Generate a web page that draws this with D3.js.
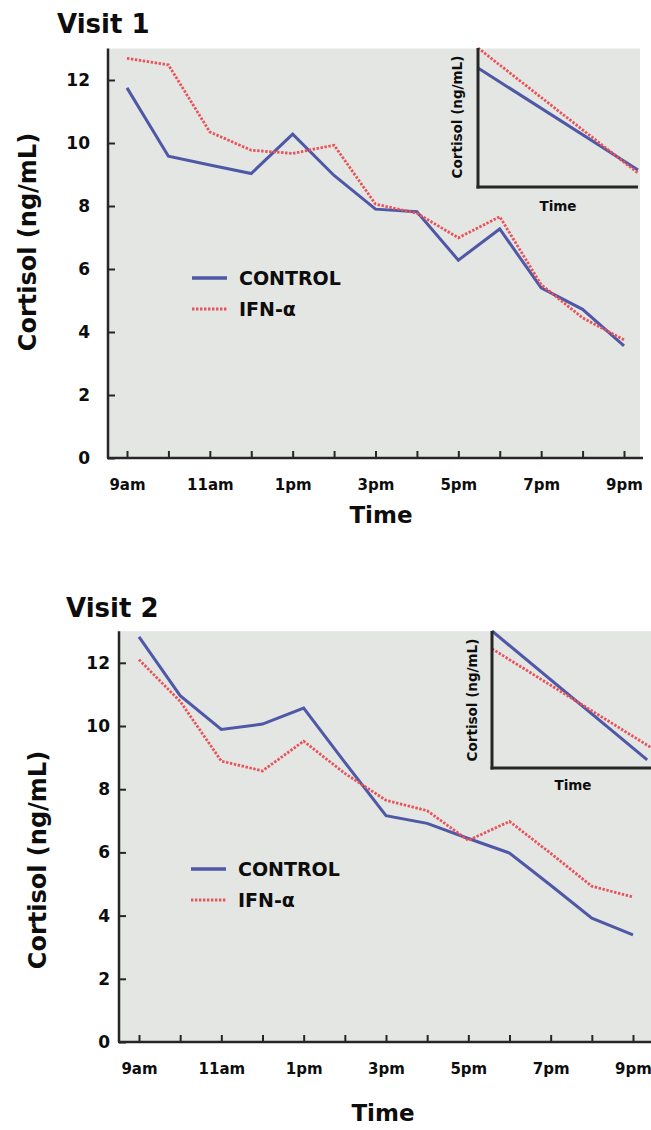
<!DOCTYPE html>
<html>
<head>
<meta charset="utf-8">
<script src="https://cdn.jsdelivr.net/npm/d3@7"></script>
<style>
body { margin: 0; background: #fff; }
text { font-family: "DejaVu Sans", sans-serif; font-weight: bold; fill: #0d0d0d; }
</style>
</head>
<body>
<div id="viz"></div>
<script>
// data
const hours = ["9am","10am","11am","12pm","1pm","2pm","3pm","4pm","5pm","6pm","7pm","8pm","9pm"];
const yTicks = [0, 2, 4, 6, 8, 10, 12];
const seriesNames = ["CONTROL", "IFN-\u03b1"];

const visit1Control = [11.75, 9.58, 9.3, 9.03, 10.28, 8.97, 7.9, 7.82, 6.28, 7.27, 5.4, 4.72, 3.56];
const visit1Ifn     = [12.69, 12.48, 10.35, 9.77, 9.67, 9.93, 8.06, 7.77, 6.99, 7.66, 5.5, 4.45, 3.75];
const visit2Control = [12.82, 10.96, 9.89, 10.06, 10.57, 8.85, 7.16, 6.92, 6.44, 5.98, 4.96, 3.92, 3.39];
const visit2Ifn     = [12.1, 10.78, 8.89, 8.58, 9.52, 8.5, 7.65, 7.32, 6.38, 6.98, 5.97, 4.93, 4.59];

// inset trend lines: [time fraction 0..1, relative level 0..10]
const inset1Control = [[0, 8.56], [1, 1.22]];
const inset1Ifn     = [[0, 10], [1, 1.0]];
const inset2Control = [[0, 10], [0.97, 0.6]];
const inset2Ifn     = [[0, 8.7], [1, 1.45]];

width = 651;
height = 1130;
blue = "#4e58a6";
red = "#ea5158";
gray = "#e4e6e3";
axisColor = "#262626";

svg = d3.select("#viz").append("svg")
  .attr("width", width)
  .attr("height", height);

function panel(cfg, title, control, ifn, insetC, insetI) {
  var g = svg.append("g");

  var x = d3.scalePoint()
    .domain(hours)
    .range([cfg.x0, cfg.x1]);

  var y = d3.scaleLinear()
    .domain([0, 13])
    .range([cfg.axisY, cfg.axisY - 13 * cfg.unit]);

  g.append("rect")
    .attr("x", cfg.axisX)
    .attr("y", y(13))
    .attr("width", cfg.right - cfg.axisX)
    .attr("height", cfg.axisY - y(13))
    .attr("fill", gray);

  // y axis ticks
  var ya = g.append("g")
    .attr("transform", "translate(" + cfg.axisX + ",0)")
    .call(d3.axisLeft(y).tickValues(yTicks).tickSize(-7).tickPadding(cfg.yPad));
  ya.select(".domain").remove();
  ya.selectAll("line").attr("stroke", axisColor).attr("stroke-width", 2);
  ya.selectAll("text").style("font-size", "17px").attr("fill", "#0d0d0d");

  // x axis ticks
  var xa = g.append("g")
    .attr("transform", "translate(0," + cfg.axisY + ")")
    .call(d3.axisBottom(x).tickSize(-7).tickPadding(21)
      .tickFormat(function(d, i) { return i % 2 == 0 ? d : ""; }));
  xa.select(".domain").remove();
  xa.selectAll("line").attr("stroke", axisColor).attr("stroke-width", 2);
  xa.selectAll("text").style("font-size", "15px").attr("fill", "#0d0d0d");

  // axis lines
  g.append("line")
    .attr("x1", cfg.axisX).attr("x2", cfg.axisX)
    .attr("y1", y(13)).attr("y2", cfg.axisY)
    .attr("stroke", axisColor).attr("stroke-width", 2.5);
  g.append("line")
    .attr("x1", cfg.axisX - 1).attr("x2", cfg.axisRight)
    .attr("y1", cfg.axisY).attr("y2", cfg.axisY)
    .attr("stroke", axisColor).attr("stroke-width", 2.5);

  var line = d3.line()
    .x(function(d, i) { return x(hours[i]); })
    .y(function(d) { return y(d); });

  g.append("path").datum(control)
    .attr("d", line)
    .attr("fill", "none")
    .attr("stroke", blue)
    .attr("stroke-width", 3);

  g.append("path").datum(ifn)
    .attr("d", line)
    .attr("fill", "none")
    .attr("stroke", red)
    .attr("stroke-width", 2.8)
    .attr("stroke-dasharray", "2.4,1.6");

  // inset
  var ins = cfg.inset;
  var ix = d3.scaleLinear().domain([0, 1]).range([ins.x0, ins.x0 + 160]);
  var iy = d3.scaleLinear().domain([0, 10]).range([ins.y0, ins.y1]);
  var iline = d3.line()
    .x(function(d) { return ix(d[0]); })
    .y(function(d) { return iy(d[1]); });

  g.append("path").datum(insetC)
    .attr("d", iline)
    .attr("fill", "none")
    .attr("stroke", blue)
    .attr("stroke-width", 3);
  g.append("path").datum(insetI)
    .attr("d", iline)
    .attr("fill", "none")
    .attr("stroke", red)
    .attr("stroke-width", 2.8)
    .attr("stroke-dasharray", "2.4,1.6");

  g.append("line")
    .attr("x1", ins.x0).attr("x2", ins.x0)
    .attr("y1", ins.y1).attr("y2", ins.y0 + 1.5)
    .attr("stroke", axisColor).attr("stroke-width", 3);
  g.append("line")
    .attr("x1", ins.x0 - 1.5).attr("x2", ins.right)
    .attr("y1", ins.y0).attr("y2", ins.y0)
    .attr("stroke", axisColor).attr("stroke-width", 3);

  g.append("text")
    .attr("transform", "translate(" + ins.labelX + "," + ins.labelY + ") rotate(-90)")
    .attr("text-anchor", "middle")
    .attr("dominant-baseline", "central")
    .style("font-size", "13.5px")
    .text("Cortisol (ng/mL)");
  g.append("text")
    .attr("x", ins.timeX)
    .attr("y", ins.timeY)
    .attr("text-anchor", "middle")
    .attr("dominant-baseline", "central")
    .style("font-size", "13.5px")
    .text("Time");

  // legend
  var colors = [blue, red];
  var leg = g.append("g");
  leg.selectAll("line").data(seriesNames).enter().append("line")
    .attr("x1", cfg.legX)
    .attr("x2", cfg.legX + 35)
    .attr("y1", function(d, i) { return cfg.legY + i * 31; })
    .attr("y2", function(d, i) { return cfg.legY + i * 31; })
    .attr("stroke", function(d, i) { return colors[i]; })
    .attr("stroke-width", function(d, i) { return i == 0 ? 3.5 : 2.8; })
    .attr("stroke-dasharray", function(d, i) { return i == 0 ? null : "2.4,1.6"; });
  leg.selectAll("text").data(seriesNames).enter().append("text")
    .attr("x", cfg.legX + 47)
    .attr("y", function(d, i) { return cfg.legY + i * 31; })
    .attr("dominant-baseline", "central")
    .style("font-size", "19px")
    .text(function(d) { return d; });

  // titles
  g.append("text")
    .attr("x", cfg.titleX)
    .attr("y", cfg.titleY)
    .style("font-size", "26px")
    .text(title);

  g.append("text")
    .attr("transform", "translate(" + cfg.yTitleX + "," + cfg.yTitleY + ") rotate(-90)")
    .attr("text-anchor", "middle")
    .attr("dominant-baseline", "central")
    .style("font-size", "24px")
    .text("Cortisol (ng/mL)");

  g.append("text")
    .attr("x", cfg.xTitleX)
    .attr("y", cfg.xTitleY)
    .attr("text-anchor", "middle")
    .style("font-size", "23px")
    .text("Time");
}

panel({
  axisX: 108, axisY: 458, unit: 31.5, right: 640, axisRight: 643,
  x0: 127, x1: 624, yPad: 18,
  titleX: 57, titleY: 33,
  yTitleX: 28, yTitleY: 242,
  xTitleX: 381, xTitleY: 523,
  legX: 192, legY: 278,
  inset: { x0: 478, y0: 187, y1: 48, right: 638, labelX: 457, labelY: 117, timeX: 558, timeY: 206 }
}, "Visit 1", visit1Control, visit1Ifn, inset1Control, inset1Ifn);

panel({
  axisX: 119, axisY: 1042, unit: 31.6, right: 651, axisRight: 651,
  x0: 139, x1: 633, yPad: 9,
  titleX: 66, titleY: 617,
  yTitleX: 38, yTitleY: 860,
  xTitleX: 383, xTitleY: 1121,
  legX: 191, legY: 869,
  inset: { x0: 492, y0: 768, y1: 631, right: 651, labelX: 472, labelY: 700, timeX: 573, timeY: 785 }
}, "Visit 2", visit2Control, visit2Ifn, inset2Control, inset2Ifn);
</script>
</body>
</html>
